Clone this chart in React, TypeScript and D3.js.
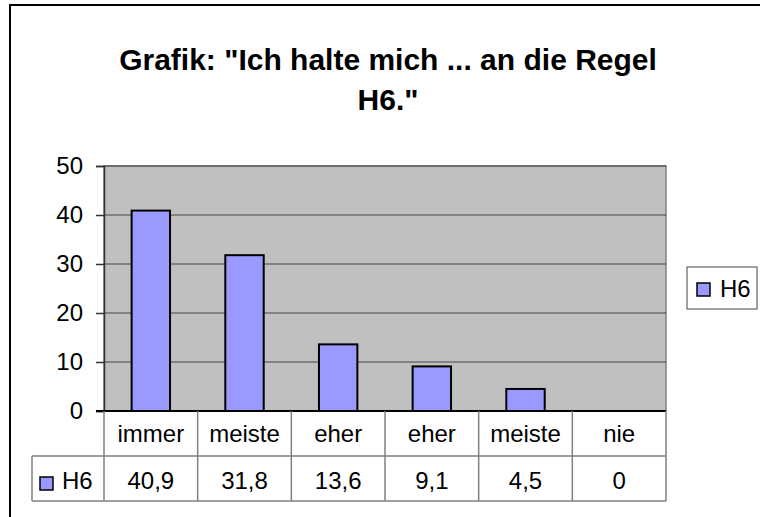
import React, { useEffect, useRef } from 'react';
import * as d3 from 'd3';

const categories = ['immer', 'meiste', 'eher', 'eher', 'meiste', 'nie'];
const h6Values = [40.9, 31.8, 13.6, 9.1, 4.5, 0];
const valueLabels = ['40,9', '31,8', '13,6', '9,1', '4,5', '0'];
const yTicks = [0, 10, 20, 30, 40, 50];
const seriesName = 'H6';
const titleLines = ['Grafik: "Ich halte mich ... an die Regel', 'H6."'];

const App = () => {
  const ref = useRef<SVGSVGElement>(null);

  useEffect(() => {
    const svg = d3.select(ref.current);
    svg.selectAll('*').remove();

    const font = '"Liberation Sans", Arial, sans-serif';
    const barFill = '#9999FF';
    const lineGray = '#808080';
    const fs = 24;

    // plot area
    const plot = { left: 104, right: 666, top: 166, bottom: 411 };
    const tableMid = 456;
    const tableBottom = 501;
    const tableLeft = 32;

    // outer frame
    svg
      .append('path')
      .attr('d', `M10,517 L10,5 L760,5`)
      .attr('fill', 'none')
      .attr('stroke', '#000')
      .attr('stroke-width', 2);

    // title
    svg
      .append('g')
      .selectAll('text')
      .data(titleLines)
      .enter()
      .append('text')
      .attr('x', 388)
      .attr('y', (d, i) => 70 + i * 40)
      .attr('text-anchor', 'middle')
      .attr('font-family', font)
      .attr('font-weight', 'bold')
      .attr('font-size', 30)
      .text(d => d);

    const x = d3
      .scaleBand<number>()
      .domain(categories.map((c, i) => i))
      .range([plot.left, plot.right]);

    const y = d3
      .scaleLinear()
      .domain([0, 50])
      .range([plot.bottom, plot.top]);

    // plot background
    svg
      .append('rect')
      .attr('x', plot.left)
      .attr('y', plot.top)
      .attr('width', plot.right - plot.left)
      .attr('height', plot.bottom - plot.top)
      .attr('fill', '#C0C0C0')
      .attr('stroke', lineGray)
      .attr('stroke-width', 1.5);

    // gridlines
    svg
      .append('g')
      .selectAll('line')
      .data(yTicks.filter(t => t > 0))
      .enter()
      .append('line')
      .attr('x1', plot.left)
      .attr('x2', plot.right)
      .attr('y1', d => y(d))
      .attr('y2', d => y(d))
      .attr('stroke', '#444')
      .attr('stroke-width', 1);

    // bars
    const barW = x.bandwidth() * 0.41;
    svg
      .append('g')
      .selectAll('rect')
      .data(h6Values)
      .enter()
      .append('rect')
      .attr('x', (d, i) => (x(i) as number) + (x.bandwidth() - barW) / 2)
      .attr('y', d => y(d))
      .attr('width', barW)
      .attr('height', d => plot.bottom - y(d))
      .attr('fill', barFill)
      .attr('stroke', d => (d > 0 ? '#000' : 'none'))
      .attr('stroke-width', 2);

    // y axis
    const yAxis = d3
      .axisLeft(y)
      .tickValues(yTicks)
      .tickSize(8)
      .tickPadding(13)
      .tickFormat(d => String(d));
    const yAxisGroup = svg
      .append('g')
      .attr('transform', `translate(${plot.left},0)`)
      .call(yAxis);
    yAxisGroup.select('.domain').attr('stroke', '#333').attr('stroke-width', 1.5);
    yAxisGroup.selectAll('.tick line').attr('stroke', '#333').attr('stroke-width', 1.5);
    yAxisGroup
      .selectAll('text')
      .attr('font-family', font)
      .attr('font-size', fs)
      .attr('fill', '#000');

    // zero line
    svg
      .append('line')
      .attr('x1', plot.left - 8)
      .attr('x2', plot.right)
      .attr('y1', plot.bottom)
      .attr('y2', plot.bottom)
      .attr('stroke', '#000')
      .attr('stroke-width', 2);

    // data table
    const table = svg.append('g').attr('stroke', lineGray).attr('stroke-width', 1.5);
    const boundaries = categories.map((c, i) => x(i) as number).concat([plot.right]);
    table
      .selectAll('line.v')
      .data(boundaries)
      .enter()
      .append('line')
      .attr('x1', d => d)
      .attr('x2', d => d)
      .attr('y1', plot.bottom)
      .attr('y2', tableBottom);
    table
      .selectAll('line.h')
      .data([tableMid, tableBottom])
      .enter()
      .append('line')
      .attr('x1', tableLeft)
      .attr('x2', plot.right)
      .attr('y1', d => d)
      .attr('y2', d => d);
    table
      .append('line')
      .attr('x1', tableLeft)
      .attr('x2', tableLeft)
      .attr('y1', tableMid)
      .attr('y2', tableBottom);

    const cellText = svg
      .append('g')
      .attr('font-family', font)
      .attr('font-size', fs)
      .attr('text-anchor', 'middle');
    cellText
      .selectAll('text.cat')
      .data(categories)
      .enter()
      .append('text')
      .attr('x', (d, i) => (x(i) as number) + x.bandwidth() / 2)
      .attr('y', 442)
      .text(d => d);
    cellText
      .selectAll('text.val')
      .data(valueLabels)
      .enter()
      .append('text')
      .attr('x', (d, i) => (x(i) as number) + x.bandwidth() / 2)
      .attr('y', 489)
      .text(d => d);

    // legend key in table
    svg
      .append('rect')
      .attr('x', 40)
      .attr('y', 477)
      .attr('width', 13)
      .attr('height', 13)
      .attr('fill', barFill)
      .attr('stroke', '#000')
      .attr('stroke-width', 1.5);
    svg
      .append('text')
      .attr('x', 62)
      .attr('y', 489)
      .attr('font-family', font)
      .attr('font-size', fs)
      .text(seriesName);

    // legend
    const legend = svg.append('g').attr('transform', 'translate(687,267)');
    legend
      .append('rect')
      .attr('width', 70)
      .attr('height', 42)
      .attr('fill', '#fff')
      .attr('stroke', '#444')
      .attr('stroke-width', 1);
    legend
      .append('rect')
      .attr('x', 10)
      .attr('y', 16)
      .attr('width', 13)
      .attr('height', 13)
      .attr('fill', barFill)
      .attr('stroke', '#000')
      .attr('stroke-width', 1.5);
    legend
      .append('text')
      .attr('x', 33)
      .attr('y', 30)
      .attr('font-family', font)
      .attr('font-size', fs)
      .text(seriesName);
  }, []);

  return (
    <svg
      ref={ref}
      width={760}
      height={517}
      style={{ position: 'absolute', left: 0, top: 0, background: '#fff' }}
    />
  );
};

export default App;
